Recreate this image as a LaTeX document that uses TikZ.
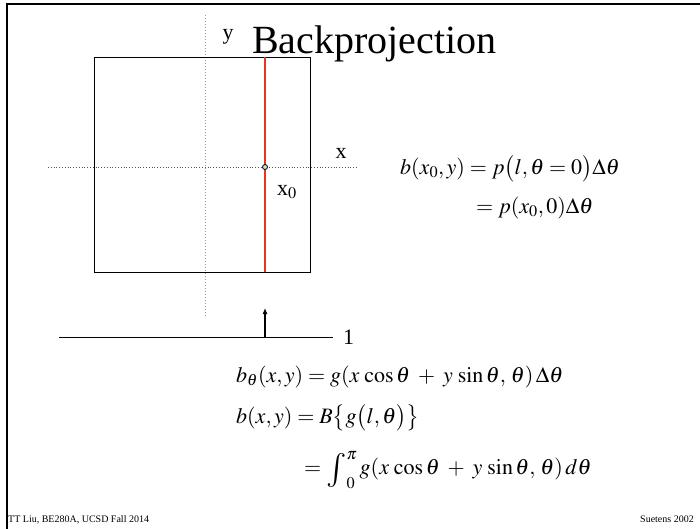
\documentclass[tikz,border=0pt]{standalone}
\usepackage{amsmath}
\usepackage{mathptmx}
\usepackage[no-math]{fontspec}
\setmainfont{Liberation Serif}
\usetikzlibrary{arrows.meta, positioning}
\definecolor{RayRed}{HTML}{E8361C}
\definecolor{AxisGray}{HTML}{9A9A9A}
\definecolor{DotGray}{HTML}{505050}
\newcommand{\bigint}{\mathop{\raisebox{-5pt}{\fontsize{34}{34}\selectfont$\int$}}\nolimits}
\tikzset{
  frameline/.style={draw=black, line width=2pt},
  imagebox/.style={draw=black, line width=0.9pt},
  xaxis/.style={draw=DotGray, dotted, line width=0.8pt},
  yaxis/.style={draw=AxisGray, dotted, line width=1pt},
  rayline/.style={draw=RayRed, line width=1.6pt},
  detline/.style={draw=black, line width=0.9pt},
  arrowup/.style={-{Latex[length=6pt, width=5pt]}, line width=1.1pt, draw=black},
  axlabel/.style={inner sep=0pt, font=\fontsize{22}{22}\selectfont},
  eqn/.style={inner sep=0pt, anchor=base west, font=\fontsize{22}{26}\selectfont},
  foot/.style={inner sep=0pt, anchor=base, font=\fontsize{10}{10}\selectfont}
}

\begin{document}
\begin{tikzpicture}[x=1pt, y=-1pt]
\useasboundingbox (0,0) rectangle (700,528);
% slide frame
\draw[frameline] (7,540) |- (720,4);
% axes
\draw[yaxis] (205,15) -- (205,318);
\draw[xaxis] (48,167) -- (357,167);
% object square and backprojected ray
\draw[imagebox] (94,57) rectangle (310,272);
\coordinate (raytop) at (265,57);
\coordinate (raybot) at (265,272);
\draw[rayline] (raytop) -- (raybot);
\node[draw=black, fill=AxisGray!40, circle, inner sep=0pt, minimum size=5pt, line width=0.8pt] (xzero) at (265,167) {};
% detector line with projection arrow
\coordinate (detleft) at (59,337);
\coordinate (detright) at (333,337);
\coordinate (arrowfoot) at (265,337);
\coordinate (arrowtip) at (265,308);
\draw[detline] (detleft) -- (detright);
\draw[arrowup] (arrowfoot) -- (arrowtip);
% labels
\node[axlabel] (ylabel) at (228,37) {y};
\node[axlabel] (xlabel) at (341,153) {x};
\node[axlabel, anchor=west] (xzerolabel) at (277,192) {x$_0$};
\node[axlabel, right=10pt of detright] (onelabel) {1};
\node[inner sep=0pt, anchor=base west, font=\fontsize{40}{40}\selectfont] (title) at (252,53) {Backprojection};
% equations
\node[eqn] (eqtop) at (400,174) {$b(x_0,y) = p\bigl(l,\theta=0\bigr)\Delta\theta$};
\node[eqn] (eqtopb) at (476,213) {$= p(x_0,0)\Delta\theta$};
\node[eqn] (eqtheta) at (236,382) {$b_\theta(x,y) = g(x\,\cos\theta \;+\; y\,\sin\theta,\,\theta)\,\Delta\theta$};
\node[eqn] (eqsum) at (236,423) {$b(x,y) = B\bigl\{g\bigl(l,\theta\bigr)\bigr\}$};
\node[eqn] (eqint) at (304,474) {$= \bigint_0^\pi g(x\,\cos\theta \;+\; y\,\sin\theta,\,\theta)\,d\theta$};
% footer
\node[foot, anchor=base west] (footleft) at (8,522) {TT Liu, BE280A, UCSD Fall 2014};
\node[foot, anchor=base east] (footright) at (694,522) {Suetens 2002};
\end{tikzpicture}
\end{document}
